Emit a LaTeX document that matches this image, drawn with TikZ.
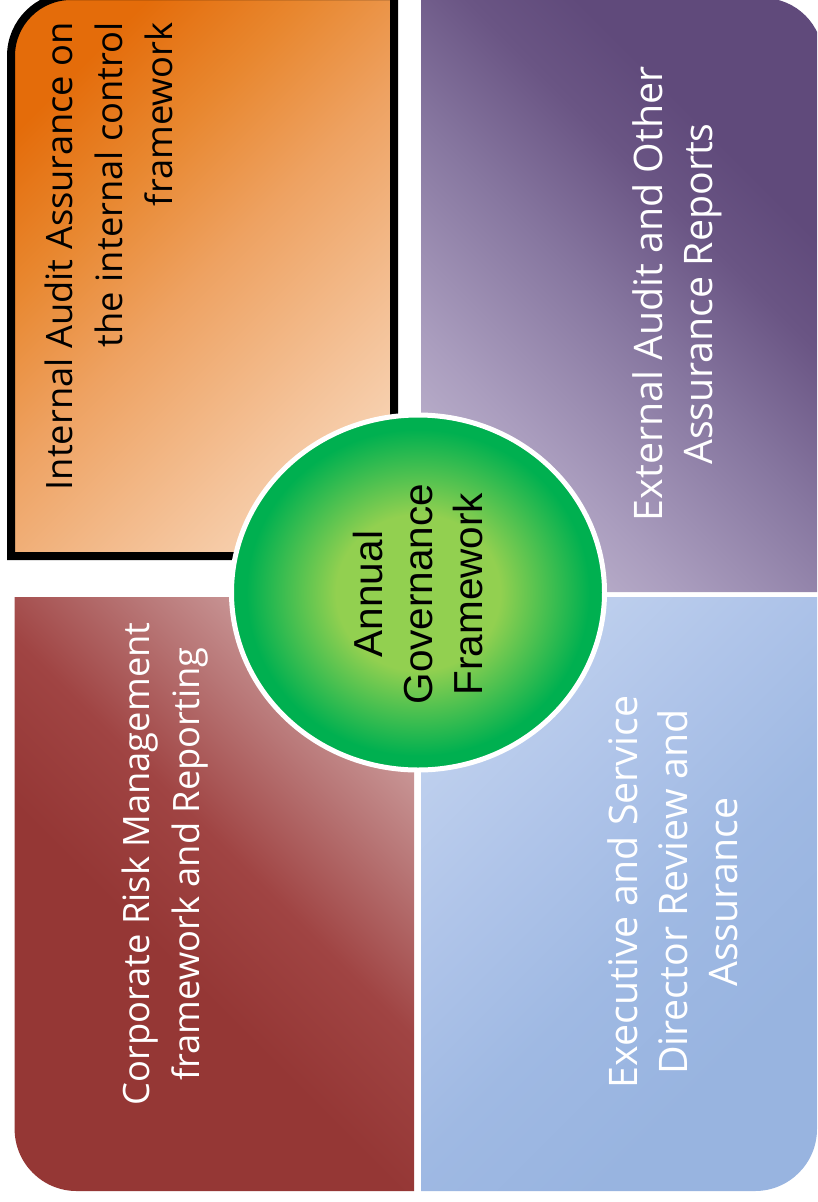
\documentclass[tikz,border=0pt]{standalone}
\usepackage{fontspec}
\usetikzlibrary{shapes.geometric}
\newfontfamily\quadfont{Open Sans}
\newfontfamily\hubfont{Liberation Sans}
% colours
\definecolor{or0}{HTML}{FBE3CE}\definecolor{or1}{HTML}{F4C298}\definecolor{or2}{HTML}{EEA262}
\definecolor{or3}{HTML}{E8872F}\definecolor{or4}{HTML}{E46C0A}
\definecolor{pu0}{HTML}{CEC6DB}\definecolor{pu1}{HTML}{AA9DBE}\definecolor{pu2}{HTML}{8777A0}
\definecolor{pu3}{HTML}{6A5584}\definecolor{pu4}{HTML}{604A7B}
\definecolor{re0}{HTML}{953735}\definecolor{re1}{HTML}{A04443}\definecolor{re2}{HTML}{B97878}
\definecolor{re3}{HTML}{D1A6A6}\definecolor{re4}{HTML}{DEBCBC}
\definecolor{bl0}{HTML}{98B4E0}\definecolor{bl1}{HTML}{9FB9E3}\definecolor{bl2}{HTML}{AFC4E9}
\definecolor{bl3}{HTML}{C0D1EE}\definecolor{bl4}{HTML}{CDDAF1}
\definecolor{gr0}{HTML}{92D050}\definecolor{gr1}{HTML}{00B050}
% shadings
\pgfdeclareverticalshading{orangegrad}{100bp}{color(0bp)=(or0); color(15bp)=(or0); color(33bp)=(or1); color(50bp)=(or2); color(63bp)=(or3); color(75bp)=(or4); color(100bp)=(or4)}
\pgfdeclareverticalshading{purplegrad}{100bp}{color(0bp)=(pu0); color(15bp)=(pu0); color(33bp)=(pu1); color(48bp)=(pu2); color(60bp)=(pu3); color(68bp)=(pu4); color(100bp)=(pu4)}
\pgfdeclareverticalshading{redgrad}{100bp}{color(0bp)=(re0); color(42bp)=(re0); color(54bp)=(re1); color(66bp)=(re2); color(77bp)=(re3); color(86bp)=(re4); color(100bp)=(re4)}
\pgfdeclareverticalshading{bluegrad}{100bp}{color(0bp)=(bl0); color(30bp)=(bl0); color(45bp)=(bl1); color(60bp)=(bl2); color(75bp)=(bl3); color(86bp)=(bl4); color(100bp)=(bl4)}
\pgfdeclareradialshading{greenball}{\pgfpoint{0bp}{0bp}}{color(0bp)=(gr0); color(11bp)=(gr0); color(23bp)=(gr1); color(25bp)=(gr1); color(50bp)=(gr1)}
\begin{document}
\begin{tikzpicture}[x=1pt,y=-1pt,
  orangebox/.style={draw=black, line width=8pt, shading=orangegrad, shading angle=45},
  purplebox/.style={shading=purplegrad, shading angle=-45},
  redbox/.style={shading=redgrad, shading angle=-45},
  bluebox/.style={shading=bluegrad, shading angle=45},
  hub/.style={ellipse, draw=white, line width=5pt, shading=greenball,
    minimum width=373pt, minimum height=355pt, inner sep=0pt},
  quadtext/.style={rotate=90, inner sep=0pt, align=center,
    font=\quadfont\fontsize{36.3}{50}\selectfont},
  quadtextlarge/.style={quadtext, font=\quadfont\fontsize{39.3}{50}\selectfont},
  hubtext/.style={rotate=90, inner sep=0pt, align=center, text=black,
    font=\hubfont\fontsize{40.5}{50}\selectfont}]
\useasboundingbox (0,0) rectangle (817,1202);
\fill[white] (0,0) rectangle (817,1202);
\begin{scope}
\clip (0,0) rectangle (817,1202);
% quadrants
\path[orangebox] (394,556) -- (11,556) -- (11,56) .. controls (11,22.9) and (37.9,-4) .. (71,-4) -- (394,-4) -- cycle;
\path[purplebox] (421,592) -- (421,-2) -- (763,-2) .. controls (796.1,-2) and (823,24.9) .. (823,58) -- (823,592) -- cycle;
\path[redbox] (414,597) -- (14.6,597) -- (14.6,1129) .. controls (14.6,1163.2) and (42.4,1191) .. (76.6,1191) -- (414,1191) -- cycle;
\path[bluebox] (421,597) -- (817,597) -- (817,1129) .. controls (817,1163.2) and (789.2,1191) .. (755,1191) -- (421,1191) -- cycle;
% texts
\node[quadtext, align=right, anchor=north east, text=black] (internal) at (45,22)
  {Internal Audit Assurance on\\the internal control\\framework};
\node[quadtextlarge, anchor=north, text=white] (external) at (632,294)
  {External Audit and Other\\Assurance Reports};
\node[quadtext, anchor=north, text=white] (corporate) at (122,864)
  {Corporate Risk Management\\framework and Reporting};
\node[quadtextlarge, anchor=north, text=white] (executive) at (607,892)
  {Executive and Service\\Director Review and\\Assurance};
% hub
\node[hub] (hub) at (418,592.5) {};
\node[hubtext, anchor=north] (hubtext) at (352.5,594) {Annual\\Governance\\Framework};
\end{scope}
\end{tikzpicture}
\end{document}
